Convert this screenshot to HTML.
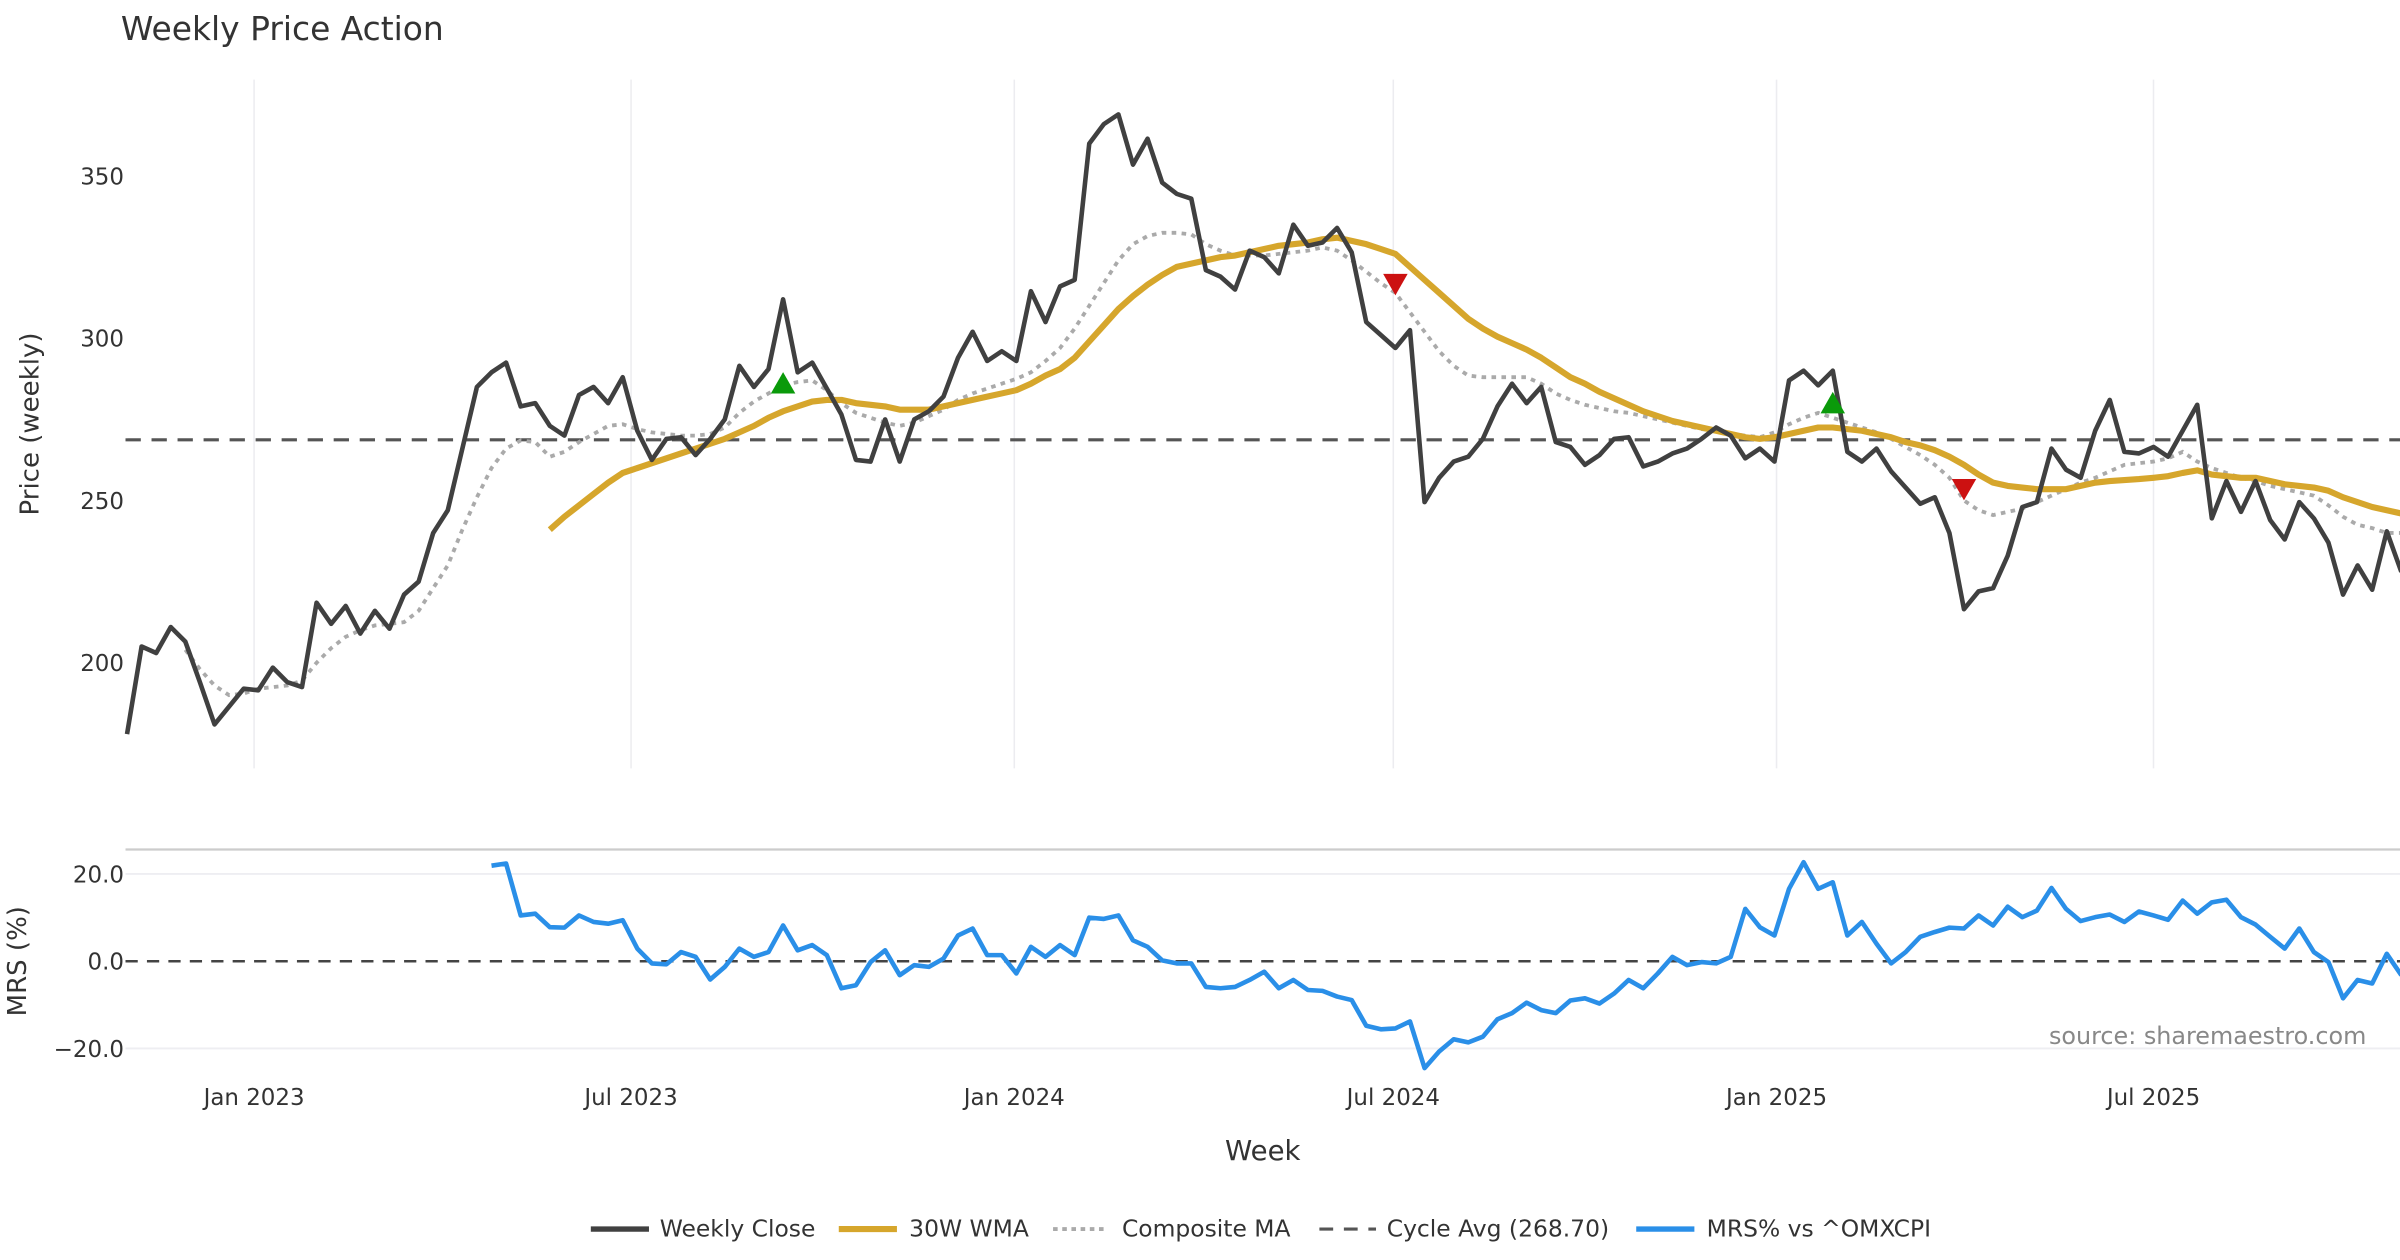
<!DOCTYPE html>
<html><head><meta charset="utf-8"><style>
html,body{margin:0;padding:0;background:#fff;}
svg{display:block;font-family:"DejaVu Sans","Liberation Sans",sans-serif;}
</style></head><body>
<svg id="chart" width="2400" height="1260" viewBox="0 0 1568 823.2" xmlns="http://www.w3.org/2000/svg">
<text x="79" y="26" font-size="21.5" fill="#333">Weekly Price Action</text>
<g id="grid"></g>
<g id="price"></g>
<g id="mrs"></g>
<g id="axes"></g>
<text transform="translate(25,277) rotate(-90)" text-anchor="middle" font-size="17" fill="#333">Price (weekly)</text>
<text transform="translate(17,628) rotate(-90)" text-anchor="middle" font-size="17" fill="#333">MRS (%)</text>
<text x="825" y="758" text-anchor="middle" font-size="18" fill="#333">Week</text>
<text x="1546" y="682" text-anchor="end" font-size="15.6" fill="#888">source: sharemaestro.com</text>
<g id="legend">
<line x1="386" y1="803" x2="424" y2="803" stroke="#404040" stroke-width="3.5"/>
<text x="431" y="808" font-size="15.3" fill="#333">Weekly Close</text>
<line x1="548" y1="803" x2="586" y2="803" stroke="#d6a62c" stroke-width="4"/>
<text x="594" y="808" font-size="15.3" fill="#333">30W WMA</text>
<line x1="688" y1="803" x2="724" y2="803" stroke="#aaa" stroke-width="2.5" stroke-dasharray="3,3"/>
<text x="733" y="808" font-size="15.3" fill="#333">Composite MA</text>
<line x1="862" y1="803" x2="899" y2="803" stroke="#555" stroke-width="2" stroke-dasharray="9,7"/>
<text x="906" y="808" font-size="15.3" fill="#333">Cycle Avg (268.70)</text>
<line x1="1069" y1="803" x2="1107" y2="803" stroke="#2a8fe8" stroke-width="3.5"/>
<text x="1115" y="808" font-size="15.3" fill="#333">MRS% vs ^OMXCPI</text>
</g>
</svg>
<script>
const closeVals=[178,205,203,211,206.5,194,181,186.5,192,191.5,198.5,194,192.5,218.5,212,217.5,209,216,210.5,221,225,240,247,266,285,289.5,292.5,279,280,273,270,282.5,285,280,288,271.5,262.5,269,269.5,264,269,275,291.5,285,290.5,312,289.5,292.5,284.5,276.5,262.5,262,275,262,275,277.5,282,294,302,293,296,293,314.5,305,316,318,360,366,369,353.5,361.5,348,344.5,343,321,319,315,327,325,320,335,328.5,329.5,334,326.5,305,301,297,302.5,249.5,257,262,263.5,269,279,286,280,285,268,266.5,261,264,269,269.5,260.5,262,264.5,266,269,272.5,270,263,266,262,287,290,285.5,290,265,262,266,259,254,249,251,240,216.5,222,223,233,248,249.5,266,259.5,257,271.5,281,265,264.5,266.5,263.5,271.5,279.5,244.5,256,246.5,256,244,238,249.5,244.5,237,221,230,222.5,240.5,228];
const wmaStart=29;
const wmaVals=[241,245,248.5,252,255.5,258.5,260,261.5,263,264.5,266,267.5,269,271,273,275.5,277.5,279,280.5,281,281,280,279.5,279,278,278,278,279,280,281,282,283,284,286,288.5,290.5,294,299,304,309,313,316.5,319.5,322,323,324,325,325.5,326.5,327.5,328.5,329,329.5,330.5,331,330,329,327.5,326,322,318,314,310,306,303,300.5,298.5,296.5,294,291,288,286,283.5,281.5,279.5,277.5,276,274.5,273.5,272.5,271.5,270.5,269.5,269,269.5,270.5,271.5,272.5,272.5,272,271.5,270.5,269.5,268,267,265.5,263.5,261,258,255.5,254.5,254,253.5,253.5,253.5,254.5,255.5,256,256.3,256.6,257,257.5,258.5,259.3,258,257.5,257,257,256,255,254.5,254,253,251,249.5,248,247,246];
const compStart=4;
const compVals=[204,198,193,190,190.5,192,192.5,193,194.5,200,204.5,208,210,211.5,212,212.5,216,223,230,241,251,260,266,268.5,268,263.5,265,268,270.5,273,273.5,272,271,270.5,270,270,270.5,272.5,277,280.5,283,285.5,286.5,287,284,280,277,275.5,274,273,274,276,278,281,283,284.5,286,287.5,289.5,293,297,303,310,317,324,329,331.5,332.5,332.5,332,329,327,325.5,325.5,325.5,326,326.5,327,328,327,324,320.5,317,314,308,302,296,291.5,288.5,288,288,288,288,286,283,281,279.5,278.5,277.5,277,276,275,274,273,272,271.5,270.5,270,269.5,271,273.5,275.5,277,275.5,274,272.5,271,269,266.5,264,261,257,250,247,245.5,246.5,247.5,249.5,251.5,253.5,255.5,257,259,261,261.5,262,263,265,262,260,258.5,257,256,254.5,253.5,252.5,251.5,248.5,245,242.5,241.5,240,240];
const mrsStart=25;
const mrsVals=[21.9,22.4,10.5,10.9,7.8,7.7,10.5,9,8.6,9.4,2.9,-0.5,-0.7,2.1,1,-4.2,-1.3,2.9,1,2.1,8.2,2.5,3.7,1.4,-6.2,-5.5,-0.2,2.5,-3.2,-0.9,-1.3,0.6,5.9,7.5,1.4,1.4,-2.8,3.3,1,3.7,1.4,10,9.7,10.5,4.8,3.3,0.2,-0.5,-0.5,-5.9,-6.2,-5.9,-4.3,-2.4,-6.2,-4.3,-6.6,-6.8,-8.1,-8.9,-14.8,-15.6,-15.4,-13.8,-24.5,-20.7,-17.9,-18.6,-17.3,-13.3,-11.9,-9.5,-11.2,-11.9,-9,-8.5,-9.7,-7.4,-4.3,-6.2,-2.8,1,-0.9,-0.2,-0.5,1,12,7.8,5.9,16.6,22.7,16.6,18.1,5.9,9,4,-0.5,2.1,5.6,6.7,7.7,7.5,10.5,8.2,12.5,10.1,11.6,16.8,12,9.2,10.1,10.7,9,11.4,10.5,9.5,13.9,10.9,13.5,14.1,10.1,8.4,5.6,2.9,7.5,2.1,-0.2,-8.5,-4.3,-5.1,1.7,-3.2];
const cycleAvg=268.7;
const buyIdx=[45,117];
const buyVals=[285.8,279.7];
const sellIdx=[87,126];
const sellVals=[317,253.8];
const priceTicks=[200,250,300,350];
const mrsTicks=[20,0,-20];
const mrsTickLabels=["20.0","0.0","\u221220.0"];
const dateTicks=["2023-01-01","2023-07-01","2024-01-01","2024-07-01","2025-01-01","2025-07-01"];
const dateTickLabels=["Jan 2023","Jul 2023","Jan 2024","Jul 2024","Jan 2025","Jul 2025"];

const NS="http://www.w3.org/2000/svg";
const DAY=86400000;
const t0=Date.UTC(2023,0,1);
const start=Date.UTC(2022,10,1);
function xDate(ms){return 166+(ms-t0)/DAY*1.3607;}
function xi(i){return xDate(start+i*7*DAY);}
function yP(v){return 221-(v-300)*2.12;}
function yM(v){return 628-v*2.85;}
function mk(tag,attrs,parent){const e=document.createElementNS(NS,tag);for(const k in attrs)e.setAttribute(k,attrs[k]);parent.appendChild(e);return e;}
function pathFrom(vals,off,yf){return vals.map((v,j)=>(j?'L':'M')+xi(j+off).toFixed(2)+','+yf(v).toFixed(2)).join('');}

const grid=document.getElementById('grid');
const axes=document.getElementById('axes');
dateTicks.forEach((d,k)=>{
  const p=d.split('-');const x=xDate(Date.UTC(+p[0],+p[1]-1,+p[2]));
  const g=mk('line',{x1:x,y1:52,x2:x,y2:502,stroke:'#ececf0','stroke-width':1},grid);
  
  
  const t=mk('text',{x:x,y:722,'text-anchor':'middle','font-size':15,fill:'#333'},axes);
  t.textContent=dateTickLabels[k];
  
  
});
priceTicks.forEach(v=>{
  const t=mk('text',{x:81,y:yP(v)+5.5,'text-anchor':'end','font-size':15,fill:'#333'},axes);
  t.textContent=v;
  
  
});
const border=mk('line',{x1:82,y1:555,x2:1568,y2:555,stroke:'#ccc','stroke-width':1.5},grid);


mrsTicks.forEach((v,k)=>{
  if(v!==0){const g=mk('line',{x1:82,y1:yM(v),x2:1568,y2:yM(v),stroke:'#eeeef2','stroke-width':1.2},grid);
  
  }
  const t=mk('text',{x:81,y:yM(v)+5.5,'text-anchor':'end','font-size':15,fill:'#333'},axes);
  t.textContent=mrsTickLabels[k];
  
  
});

const pg=document.getElementById('price');
const cyc=mk('line',{x1:82,y1:yP(cycleAvg),x2:1568,y2:yP(cycleAvg),stroke:'#555','stroke-width':2,'stroke-dasharray':'10,7'},pg);


const cp=mk('path',{d:pathFrom(compVals,compStart,yP),fill:'none',stroke:'#aaa','stroke-width':2.5,'stroke-dasharray':'3,3.5'},pg);


const wp=mk('path',{d:pathFrom(wmaVals,wmaStart,yP),fill:'none',stroke:'#d6a62c','stroke-width':4,'stroke-linejoin':'round'},pg);


const clp=mk('path',{d:pathFrom(closeVals,0,yP),fill:'none',stroke:'#404040','stroke-width':3,'stroke-linejoin':'round'},pg);


buyIdx.forEach((i,k)=>{
  const x=xi(i),y=yP(buyVals[k]);
  const m=mk('polygon',{points:`${x-8},${y+6} ${x+8},${y+6} ${x},${y-8}`,fill:'#0a9a0a'},pg);
  
  
});
sellIdx.forEach((i,k)=>{
  const x=xi(i),y=yP(sellVals[k]);
  const m=mk('polygon',{points:`${x-8},${y-6} ${x+8},${y-6} ${x},${y+8}`,fill:'#cc1111'},pg);
  
  
});

const mg=document.getElementById('mrs');
const z=mk('line',{x1:82,y1:yM(0),x2:1568,y2:yM(0),stroke:'#444','stroke-width':1.6,'stroke-dasharray':'8,6'},mg);


const mp=mk('path',{d:pathFrom(mrsVals,mrsStart,yM),fill:'none',stroke:'#2a8fe8','stroke-width':3,'stroke-linejoin':'round'},mg);


</script>
</body></html>
